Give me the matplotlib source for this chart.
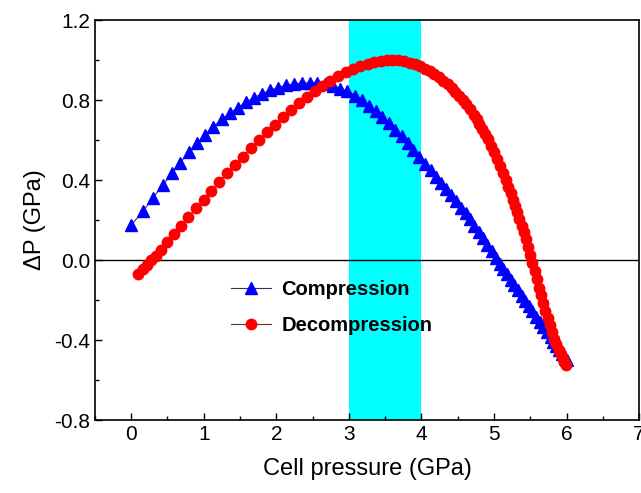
import matplotlib
matplotlib.use("Agg")
import matplotlib.pyplot as plt
from matplotlib.ticker import MultipleLocator

plt.rcParams['font.family'] = ['Liberation Sans', 'DejaVu Sans']

# Compression data
comp_x = [0.00, 0.165, 0.30, 0.44, 0.56, 0.67, 0.80, 0.91, 1.02, 1.13, 1.25, 1.36,
          1.47, 1.58, 1.69, 1.80, 1.91, 2.02, 2.13, 2.24, 2.35, 2.46, 2.56, 2.67,
          2.78, 2.88, 2.98, 3.08, 3.18, 3.28, 3.37, 3.46, 3.55, 3.64, 3.73, 3.81,
          3.89, 3.97, 4.05, 4.13, 4.20, 4.27, 4.34, 4.41, 4.48, 4.55, 4.61, 4.67,
          4.73, 4.79, 4.85, 4.91, 4.97, 5.03, 5.08, 5.13, 5.18, 5.23, 5.28, 5.33,
          5.38, 5.43, 5.48, 5.53, 5.58, 5.63, 5.68, 5.73, 5.78, 5.82, 5.86, 5.90,
          5.94, 5.98, 6.00]
comp_y = [0.175, 0.245, 0.312, 0.376, 0.434, 0.485, 0.540, 0.585, 0.628, 0.667, 0.704, 0.735,
          0.763, 0.790, 0.812, 0.832, 0.849, 0.863, 0.874, 0.881, 0.886, 0.887, 0.885, 0.879,
          0.871, 0.858, 0.845, 0.823, 0.800, 0.772, 0.745, 0.715, 0.684, 0.652, 0.620, 0.586,
          0.551, 0.517, 0.483, 0.449, 0.418, 0.387, 0.357, 0.326, 0.295, 0.263, 0.234, 0.204,
          0.173, 0.142, 0.110, 0.077, 0.044, 0.011, -0.017, -0.044, -0.071, -0.098, -0.125, -0.152,
          -0.178, -0.204, -0.230, -0.256, -0.283, -0.309, -0.335, -0.361, -0.387, -0.408, -0.428, -0.449,
          -0.469, -0.490, -0.500]

# Decompression data
decomp_x = [0.10, 0.16, 0.22, 0.28, 0.34, 0.41, 0.50, 0.59, 0.69, 0.79, 0.90, 1.00,
            1.10, 1.21, 1.32, 1.43, 1.54, 1.65, 1.76, 1.87, 1.98, 2.09, 2.20, 2.31,
            2.42, 2.53, 2.63, 2.74, 2.85, 2.96, 3.06, 3.16, 3.26, 3.35, 3.44, 3.52,
            3.60, 3.68, 3.76, 3.84, 3.91, 3.98, 4.05, 4.12, 4.18, 4.24, 4.30, 4.36,
            4.42, 4.47, 4.52, 4.57, 4.62, 4.67, 4.72, 4.76, 4.80, 4.84, 4.88, 4.92,
            4.96, 5.00, 5.04, 5.08, 5.12, 5.16, 5.20, 5.23, 5.26, 5.29, 5.32, 5.35,
            5.38, 5.41, 5.44, 5.47, 5.50, 5.53, 5.56, 5.59, 5.62, 5.65, 5.68, 5.71,
            5.74, 5.77, 5.80, 5.83, 5.86, 5.89, 5.92, 5.95, 5.97, 5.99]
decomp_y = [-0.070, -0.045, -0.022, 0.000, 0.022, 0.050, 0.090, 0.130, 0.172, 0.214, 0.260, 0.302,
            0.344, 0.390, 0.434, 0.476, 0.518, 0.560, 0.601, 0.640, 0.678, 0.714, 0.750, 0.784,
            0.816, 0.846, 0.872, 0.897, 0.920, 0.940, 0.956, 0.970, 0.982, 0.991, 0.997, 1.001,
            1.003, 1.001, 0.996, 0.988, 0.980, 0.970, 0.958, 0.945, 0.933, 0.916, 0.898, 0.882,
            0.862, 0.843, 0.823, 0.803, 0.780, 0.755, 0.728, 0.705, 0.681, 0.656, 0.631, 0.605,
            0.573, 0.540, 0.506, 0.472, 0.437, 0.401, 0.365, 0.335, 0.303, 0.271, 0.239, 0.206,
            0.172, 0.139, 0.104, 0.068, 0.028, -0.013, -0.055, -0.097, -0.138, -0.177, -0.215, -0.254,
            -0.292, -0.327, -0.362, -0.393, -0.422, -0.448, -0.472, -0.495, -0.510, -0.525]

band = [3.0, 4.0]
x_ticks = [0, 1, 2, 3, 4, 5, 6, 7]
y_ticks = [-0.8, -0.4, 0.0, 0.4, 0.8, 1.2]

fig = plt.figure(figsize=(6.41, 4.93), dpi=100)
ax = fig.add_axes([0.148, 0.148, 0.849, 0.811])

ax.axvspan(band[0], band[1], color='#00FFFF', zorder=0, lw=0)
ax.axhline(0, color='black', lw=1.0, zorder=1)

ax.plot(comp_x, comp_y, '-', color='#333366', lw=0.8, marker='^', markersize=8,
        markerfacecolor='#0000FF', markeredgecolor='#0000FF', label='Compression', zorder=3)
ax.plot(decomp_x, decomp_y, '-', color='#663333', lw=0.8, marker='o', markersize=7.5,
        markerfacecolor='#FF0000', markeredgecolor='#FF0000', label='Decompression', zorder=4)

ax.set_xlim(-0.5, 7)
ax.set_ylim(-0.8, 1.2)
ax.set_xticks(x_ticks)
ax.set_yticks(y_ticks)
ax.set_yticklabels(['-0.8', '-0.4', '0.0', '0.4', '0.8', '1.2'])
ax.xaxis.set_minor_locator(MultipleLocator(0.5))
ax.yaxis.set_minor_locator(MultipleLocator(0.2))
ax.tick_params(which='both', direction='in', top=False, right=False, labelsize=15, width=1.0)
ax.tick_params(which='major', length=5)
ax.tick_params(which='minor', length=3)
for s in ax.spines.values():
    s.set_linewidth(1.2)

ax.set_xlabel('Cell pressure (GPa)', fontsize=17, labelpad=10)
ax.set_ylabel('ΔP (GPa)', fontsize=17, labelpad=6)

leg = ax.legend(loc='upper left', bbox_to_anchor=(0.25, 0.35), frameon=False,
                prop={'weight': 'bold', 'size': 14.5}, borderpad=0, borderaxespad=0,
                handletextpad=0.5, labelspacing=0.85, handlelength=2.0)

fig.savefig('out.png', dpi=100)
